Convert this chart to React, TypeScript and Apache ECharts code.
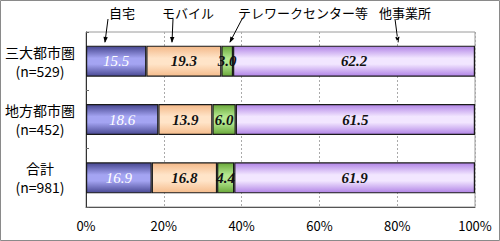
import React, { useEffect, useRef } from "react";
import * as echarts from "echarts";

const categories = ["三大都市圏", "地方都市圏", "合計"];
const sampleSizes = ["(n=529)", "(n=452)", "(n=981)"];
const seriesNames = ["自宅", "モバイル", "テレワークセンター等", "他事業所"];
const homeValues = [15.5, 18.6, 16.9];
const mobileValues = [19.3, 13.9, 16.8];
const centerValues = [3.0, 6.0, 4.4];
const otherValues = [62.2, 61.5, 61.9];
const xTicks = [0, 20, 40, 60, 80, 100];

const grad = (edge: string, mid: string, edge2: string) =>
  new echarts.graphic.LinearGradient(0, 0, 0, 1, [
    { offset: 0, color: edge },
    { offset: 0.4, color: mid },
    { offset: 0.6, color: mid },
    { offset: 1, color: edge2 },
  ]);

export default function App() {
  const ref = useRef<HTMLDivElement>(null);
  useEffect(() => {
    document.body.style.margin = "0";
    const chart = echarts.init(ref.current!, undefined, { renderer: "svg" });
    const labelFont = {
      show: true,
      position: "inside" as const,
      fontFamily: "Liberation Serif",
      fontStyle: "italic" as const,
      fontWeight: "bold" as const,
      fontSize: 15,
      color: "#111",
      formatter: (p: any) => Number(p.value).toFixed(1),
    };
    const styles = [
      { color: grad("#46468f", "#a4a4f2", "#4a4a94"), label: { ...labelFont, color: "#fff", fontWeight: "normal" as const } },
      { color: grad("#f3b888", "#ffe4c8", "#f5bc8c"), label: labelFont },
      { color: grad("#6aa83a", "#b4e890", "#6aa83a"), label: labelFont },
      { color: grad("#b184e6", "#f2e6ff", "#b184e6"), label: labelFont },
    ];
    const values = [homeValues, mobileValues, centerValues, otherValues];
    const sans = "'Noto Sans CJK JP', sans-serif";
    const arrows = [
      { text: seriesNames[0], tx: 122, x1: 108, x2: 105 },
      { text: seriesNames[1], tx: 188, x1: 173, x2: 172 },
      { text: seriesNames[2], tx: 303, x1: 242, x2: 230 },
      { text: seriesNames[3], tx: 405, x1: 395, x2: 398 },
    ];
    const graphics: any[] = [
      {
        type: "rect",
        shape: { x: 0.5, y: 0.5, width: 499, height: 240 },
        style: { fill: "none", stroke: "#8a8a8a", lineWidth: 1 },
        silent: true,
      },
    ];
    arrows.forEach((a) => {
      graphics.push({
        type: "text",
        x: a.tx,
        y: 12,
        style: { text: a.text, fontFamily: sans, fontSize: 13, fill: "#000", align: "center", verticalAlign: "middle" },
      });
      graphics.push({
        type: "line",
        shape: { x1: a.x1, y1: 19, x2: a.x2, y2: 42 },
        style: { stroke: "#000", lineWidth: 1 },
      });
      const dx = a.x2 - a.x1;
      const dy = 42 - 19;
      const len = Math.sqrt(dx * dx + dy * dy);
      const ux = dx / len, uy = dy / len;
      const bx = a.x2 - ux * 5, by = 42 - uy * 5;
      graphics.push({
        type: "polygon",
        shape: { points: [[a.x2 + ux, 43], [bx - uy * 2.2, by + ux * 2.2], [bx + uy * 2.2, by - ux * 2.2]] },
        style: { fill: "#000" },
      });
    });
    chart.setOption({
      animation: false,
      grid: { left: 86, right: 25, top: 32, bottom: 34, show: true, borderColor: "#9a9a9a", borderWidth: 1, backgroundColor: "transparent" },
      xAxis: {
        type: "value",
        min: 0,
        max: 100,
        interval: 20,
        axisLine: { show: true, lineStyle: { color: "#555" } },
        axisTick: { show: false },
        splitLine: { show: true, lineStyle: { color: "#aaa", type: [2, 2] } },
        axisLabel: {
          fontFamily: sans,
          fontSize: 13,
          color: "#000",
          margin: 12,
          formatter: (v: number) => (xTicks.includes(v) ? v + "%" : ""),
        },
      },
      yAxis: {
        type: "category",
        inverse: true,
        data: categories,
        axisLine: { show: true, lineStyle: { color: "#333" } },
        axisTick: { show: true, inside: true, length: 3, lineStyle: { color: "#666" } },
        axisLabel: {
          margin: 46,
          align: "center",
          formatter: (v: string, i: number) => "{a|" + v + "}\n{b|" + sampleSizes[i] + "}",
          rich: {
            a: { fontFamily: sans, fontSize: 14, color: "#000", align: "center", lineHeight: 19 },
            b: { fontFamily: sans, fontSize: 14, color: "#000", align: "center", lineHeight: 19 },
          },
        },
      },
      series: seriesNames.map((name, k) => ({
        name,
        type: "bar",
        stack: "total",
        data: values[k],
        barWidth: 31,
        itemStyle: { color: styles[k].color, borderColor: "#1a1a1a", borderWidth: 1.2 },
        label: styles[k].label,
      })),
      graphic: graphics,
    });
    return () => chart.dispose();
  }, []);
  return <div ref={ref} style={{ width: 500, height: 241 }} />;
}
